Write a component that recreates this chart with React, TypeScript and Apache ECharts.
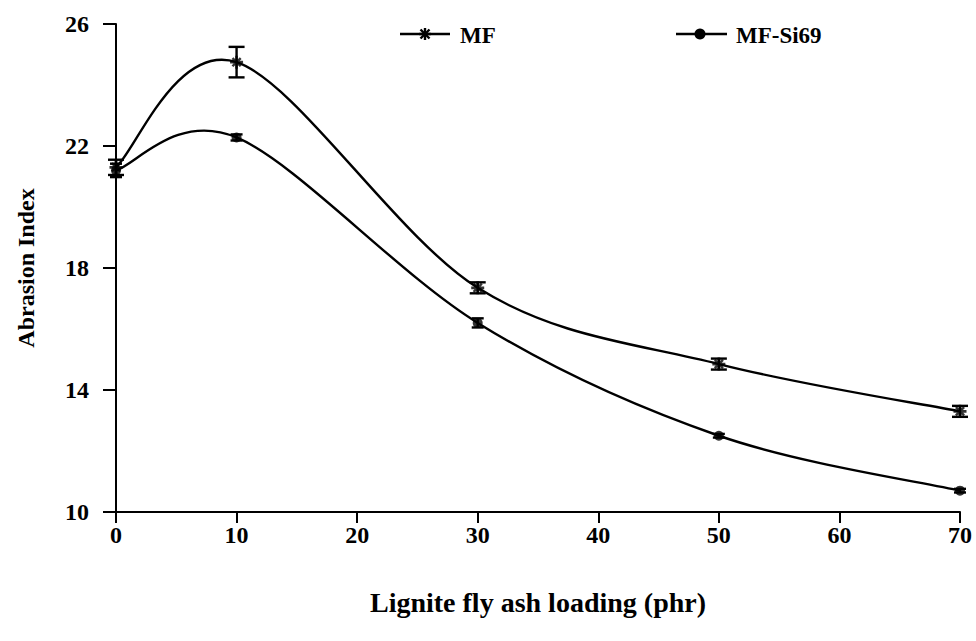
import React, { useEffect, useRef } from "react";
import * as echarts from "echarts";

const xValues = [0, 10, 30, 50, 70];
const mfValues = [21.3, 24.75, 17.35, 14.85, 13.3];
const mfErrors = [0.25, 0.5, 0.18, 0.18, 0.18];
const siValues = [21.2, 22.28, 16.2, 12.5, 10.7];
const siErrors = [0.22, 0.1, 0.15, 0.06, 0.06];
const xTicks = { min: 0, max: 70, interval: 10 };
const yTicks = { min: 10, max: 26, interval: 4 };

const FONT = "'Liberation Serif', 'Times New Roman', serif";

function curveSeries(name: string, ys: number[]) {
  return {
    type: "custom",
    name,
    data: xValues.map((x, i) => [x, ys[i]]),
    encode: { x: 0, y: 1 },
    z: 2,
    renderItem: (params: any, api: any) => {
      const i = params.dataIndex;
      const n = xValues.length;
      if (i >= n - 1) return null;
      const cl = (k: number) => Math.max(0, Math.min(n - 1, k));
      const p = (k: number) => api.coord([xValues[cl(k)], ys[cl(k)]]);
      const p0 = p(i - 1), p1 = p(i), p2 = p(i + 1), p3 = p(i + 2);
      const cpx1 = p1[0] + (p2[0] - p0[0]) / 6;
      const cpy1 = p1[1] + (p2[1] - p0[1]) / 6;
      const cpx2 = p2[0] - (p3[0] - p1[0]) / 6;
      const cpy2 = p2[1] - (p3[1] - p1[1]) / 6;
      return {
        type: "bezierCurve",
        shape: { x1: p1[0], y1: p1[1], x2: p2[0], y2: p2[1], cpx1, cpy1, cpx2, cpy2 },
        style: { stroke: "#000", lineWidth: 2.4, fill: "none" },
      };
    },
  };
}

function errorSeries(ys: number[], errs: number[], cap: number) {
  return {
    type: "custom",
    data: xValues.map((x, i) => [x, ys[i], errs[i]]),
    encode: { x: 0, y: 1 },
    z: 3,
    renderItem: (params: any, api: any) => {
      const x = api.value(0), y = api.value(1), e = api.value(2);
      const top = api.coord([x, y + e]);
      const bot = api.coord([x, y - e]);
      const st = { stroke: "#000", lineWidth: 2.4 };
      return {
        type: "group",
        children: [
          { type: "line", shape: { x1: top[0], y1: top[1], x2: bot[0], y2: bot[1] }, style: st },
          { type: "line", shape: { x1: top[0] - cap, y1: top[1], x2: top[0] + cap, y2: top[1] }, style: st },
          { type: "line", shape: { x1: bot[0] - cap, y1: bot[1], x2: bot[0] + cap, y2: bot[1] }, style: st },
        ],
      };
    },
  };
}

const asterisk =
  "path://M-1.2,-6L1.2,-6L1.2,6L-1.2,6Z M-6,-1.2L6,-1.2L6,1.2L-6,1.2Z M-4.6,-3L-3,-4.6L4.6,3L3,4.6Z M3,-4.6L4.6,-3L-3,4.6L-4.6,3Z";

function legendAsterisk(cx: number, cy: number, r: number) {
  const st = { stroke: "#000", lineWidth: 2.4 };
  const d = r * 0.75;
  return {
    type: "group",
    children: [
      { type: "line", shape: { x1: cx, y1: cy - r, x2: cx, y2: cy + r }, style: st },
      { type: "line", shape: { x1: cx - r, y1: cy, x2: cx + r, y2: cy }, style: st },
      { type: "line", shape: { x1: cx - d, y1: cy - d, x2: cx + d, y2: cy + d }, style: st },
      { type: "line", shape: { x1: cx - d, y1: cy + d, x2: cx + d, y2: cy - d }, style: st },
    ],
  };
}

export default function App() {
  const ref = useRef<HTMLDivElement>(null);
  useEffect(() => {
    if (!ref.current) return;
    const chart = echarts.init(ref.current, null, { renderer: "svg" });
    const axisText = { color: "#000", fontFamily: FONT, fontWeight: "bold", fontSize: 24 };
    chart.setOption({
      animation: false,
      backgroundColor: "#fff",
      grid: { left: 116, top: 24, right: 16, bottom: 129 },
      xAxis: {
        type: "value",
        ...xTicks,
        name: "Lignite fly ash loading (phr)",
        nameLocation: "middle",
        nameGap: 76,
        nameTextStyle: { ...axisText, fontSize: 28 },
        axisLine: { lineStyle: { color: "#000", width: 2 } },
        axisTick: { show: true, inside: false, length: 11, lineStyle: { color: "#000", width: 2 } },
        axisLabel: { ...axisText, margin: 11 },
        splitLine: { show: false },
      },
      yAxis: {
        type: "value",
        ...yTicks,
        name: "Abrasion Index",
        nameLocation: "middle",
        nameGap: 78,
        nameRotate: 90,
        nameTextStyle: { ...axisText, fontSize: 24 },
        axisLine: { show: true, lineStyle: { color: "#000", width: 2 } },
        axisTick: { show: true, inside: false, length: 13, lineStyle: { color: "#000", width: 2 } },
        axisLabel: { ...axisText, margin: 27 },
        splitLine: { show: false },
      },
      series: [
        curveSeries("MF", mfValues),
        curveSeries("MF-Si69", siValues),
        errorSeries(mfValues, mfErrors, 8),
        errorSeries(siValues, siErrors, 6),
        {
          type: "scatter",
          data: xValues.map((x, i) => [x, mfValues[i]]),
          symbol: asterisk,
          symbolSize: 13,
          itemStyle: { color: "#000" },
          z: 4,
        },
        {
          type: "scatter",
          data: xValues.map((x, i) => [x, siValues[i]]),
          symbol: "circle",
          symbolSize: 10,
          itemStyle: { color: "#000" },
          z: 4,
        },
      ],
      graphic: [
        { type: "line", shape: { x1: 400, y1: 34, x2: 450, y2: 34 }, style: { stroke: "#000", lineWidth: 2.4 } },
        legendAsterisk(425, 34, 6),
        { type: "text", x: 460, y: 35, style: { text: "MF", font: `bold 23px ${FONT}`, fill: "#000", textVerticalAlign: "middle" } },
        { type: "line", shape: { x1: 676, y1: 34, x2: 727, y2: 34 }, style: { stroke: "#000", lineWidth: 2.4 } },
        { type: "circle", shape: { cx: 700, cy: 34, r: 5.5 }, style: { fill: "#000" } },
        { type: "text", x: 736, y: 35, style: { text: "MF-Si69", font: `bold 23px ${FONT}`, fill: "#000", textVerticalAlign: "middle" } },
      ],
    });
    return () => chart.dispose();
  }, []);
  return (
    <div
      ref={ref}
      style={{ position: "fixed", left: 0, top: 0, width: 976, height: 641 }}
    />
  );
}
